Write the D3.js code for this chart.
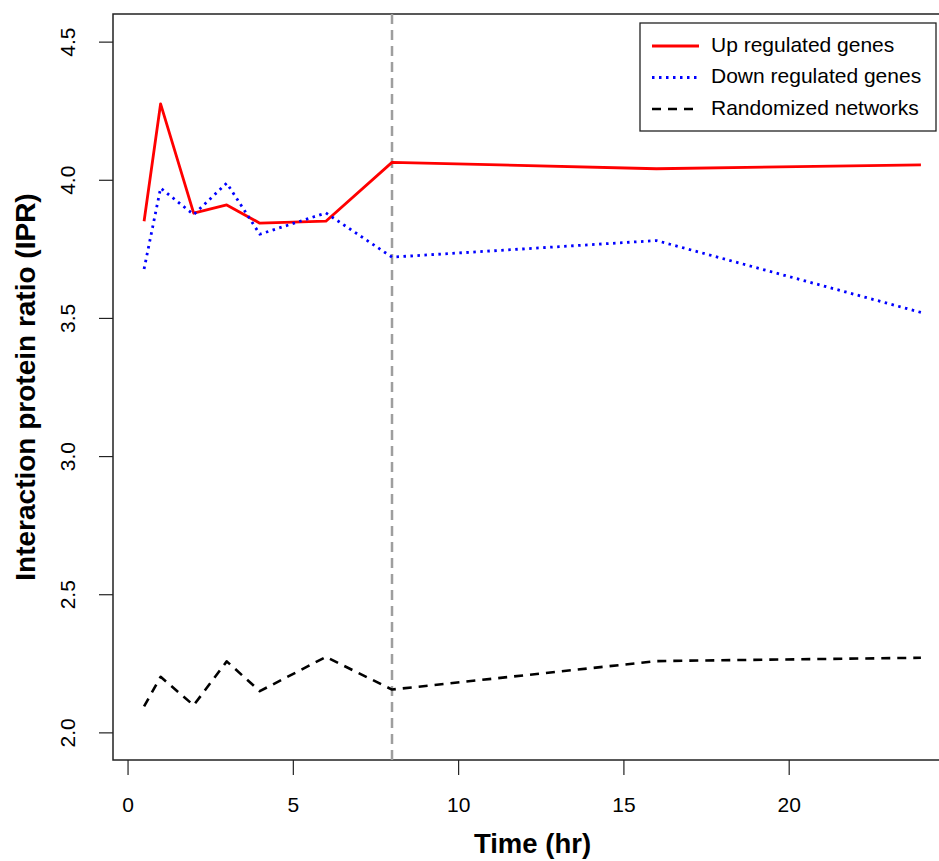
<!DOCTYPE html>
<html>
<head>
<meta charset="utf-8">
<script src="https://cdn.jsdelivr.net/npm/d3@7"></script>
<style>
  body { margin: 0; background: #fff; }
  text { font-family: "Liberation Sans", Arial, sans-serif; fill: #000; }
</style>
</head>
<body>
<div id="chart"></div>
<script>
// Time points (hr)
const times = [0.5, 1, 2, 3, 4, 6, 8, 16, 24];
// IPR series
const upRegulated = [3.85, 4.275, 3.879, 3.909, 3.843, 3.85, 4.063, 4.04, 4.054];
const downRegulated = [3.677, 3.97, 3.874, 3.988, 3.803, 3.88, 3.72, 3.78, 3.52];
const randomized = [2.094, 2.201, 2.098, 2.257, 2.149, 2.273, 2.155, 2.258, 2.27];

const xTicks = [0, 5, 10, 15, 20];
const yTicks = [2.0, 2.5, 3.0, 3.5, 4.0, 4.5];
const markerTime = 8;

const legendItems = [
    { label: 'Up regulated genes', color: '#ff0000', dash: null, width: 2.8 },
    { label: 'Down regulated genes', color: '#0000ff', dash: '2.5,4.5', width: 2.8 },
    { label: 'Randomized networks', color: '#000000', dash: '9,7', width: 2.6 }
];

const width = 939, height = 861;
const plot = { left: 113, right: 952, top: 14, bottom: 760 };
const tickFont = 21;

const svg = d3.select('#chart').append('svg')
    .attr('width', width)
    .attr('height', height);

// R-style 4% expanded ranges
const x = d3.scaleLinear().domain([-0.44, 24.94]).range([plot.left, plot.right]);
const y = d3.scaleLinear().domain([1.9, 4.6]).range([plot.bottom, plot.top]);

// X axis
const xAxis = svg.append('g')
    .attr('transform', `translate(0,${plot.bottom})`)
    .call(d3.axisBottom(x).tickValues(xTicks).tickFormat(d3.format('d')).tickSize(15).tickPadding(22));
xAxis.select('.domain').remove();
xAxis.selectAll('line').attr('stroke', '#222').attr('stroke-width', 1.2);
xAxis.selectAll('text').attr('font-size', tickFont).attr('fill', '#000')
    .style('font-family', '"Liberation Sans", Arial, sans-serif');

// Y axis (labels rotated like R's default)
const yAxis = svg.append('g')
    .attr('transform', `translate(${plot.left},0)`)
    .call(d3.axisLeft(y).tickValues(yTicks).tickFormat(d3.format('.1f')).tickSize(14));
yAxis.select('.domain').remove();
yAxis.selectAll('line').attr('stroke', '#222').attr('stroke-width', 1.2);
yAxis.selectAll('text')
    .attr('font-size', tickFont).attr('fill', '#000')
    .style('font-family', '"Liberation Sans", Arial, sans-serif')
    .attr('x', null).attr('dy', null)
    .attr('text-anchor', 'middle')
    .attr('transform', 'translate(-44,0) rotate(-90)')
    .attr('dominant-baseline', 'middle');

// Plot box
svg.append('rect')
    .attr('x', plot.left).attr('y', plot.top)
    .attr('width', plot.right - plot.left).attr('height', plot.bottom - plot.top)
    .attr('fill', 'none').attr('stroke', '#222').attr('stroke-width', 1.5);

// Axis titles
svg.append('text')
    .attr('x', (plot.left + plot.right) / 2).attr('y', 853)
    .attr('text-anchor', 'middle')
    .attr('font-size', 27.5).attr('font-weight', 'bold')
    .text('Time (hr)');

svg.append('text')
    .attr('transform', `translate(35,${(plot.top + plot.bottom) / 2}) rotate(-90)`)
    .attr('text-anchor', 'middle')
    .attr('font-size', 28).attr('font-weight', 'bold')
    .text('Interaction protein ratio (IPR)');

// Vertical marker at 8 hr
svg.append('line')
    .attr('x1', x(markerTime)).attr('x2', x(markerTime))
    .attr('y1', plot.top).attr('y2', plot.bottom)
    .attr('stroke', '#9e9e9e').attr('stroke-width', 2.5)
    .attr('stroke-dasharray', '10,6');

const line = d3.line()
    .x(d => x(d[0]))
    .y(d => y(d[1]));

const seriesData = [upRegulated, downRegulated, randomized];
seriesData.forEach((vals, i) => {
    const item = legendItems[i];
    svg.append('path')
        .datum(times.map((t, j) => [t, vals[j]]))
        .attr('d', line)
        .attr('fill', 'none')
        .attr('stroke', item.color)
        .attr('stroke-width', item.width)
        .attr('stroke-dasharray', item.dash)
        .attr('stroke-linejoin', 'round');
});

// Legend
const legend = svg.append('g');
legend.append('rect')
    .attr('x', 640).attr('y', 23)
    .attr('width', 296).attr('height', 108)
    .attr('fill', '#fff').attr('stroke', '#222').attr('stroke-width', 1.3);

legendItems.forEach((item, i) => {
    const ly = 46 + i * 31.5;
    legend.append('line')
        .attr('x1', 652).attr('x2', 699)
        .attr('y1', ly).attr('y2', ly)
        .attr('stroke', item.color)
        .attr('stroke-width', item.width)
        .attr('stroke-dasharray', item.dash);
    legend.append('text')
        .attr('x', 711).attr('y', ly)
        .attr('dominant-baseline', 'middle')
        .attr('font-size', 21)
        .text(item.label);
});
</script>
</body>
</html>
